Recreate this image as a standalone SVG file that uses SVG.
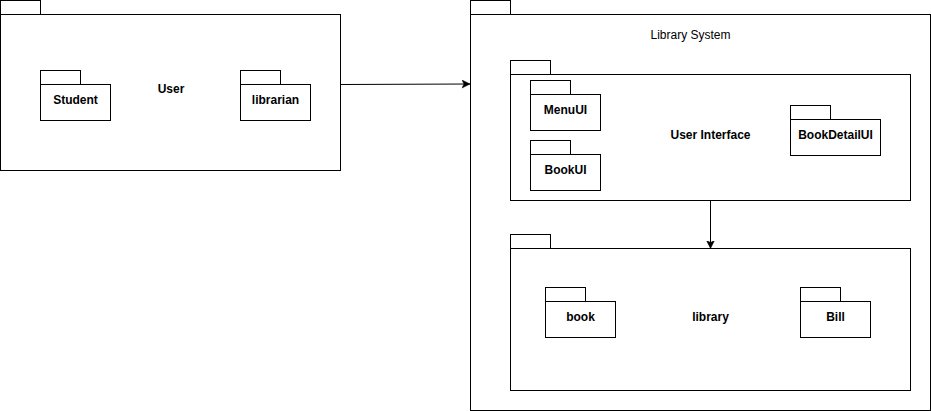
<svg xmlns="http://www.w3.org/2000/svg" width="931" height="411" viewBox="0 0 931 411">
<style>
.p{fill:#fff;stroke:#000;stroke-width:1}
.t{font-family:"Liberation Sans",Arial,sans-serif;font-size:12px;fill:#000;text-anchor:middle;dominant-baseline:central}
.b{font-weight:bold}
.c{fill:none;stroke:#000;stroke-width:1}
</style>
<defs>
<marker id="ah" markerWidth="10" markerHeight="10" refX="8" refY="4" orient="auto" markerUnits="userSpaceOnUse">
<path d="M0,0 L8,4 L0,8 L2,4 Z" fill="#000" stroke="#000" stroke-width="0.5"/>
</marker>
</defs>
<rect width="931" height="411" fill="#fff"/>
<g id="user">
<rect class="p" x="0.5" y="0.5" width="40" height="14"/>
<rect class="p" x="0.5" y="14.5" width="340" height="156"/>
<text class="t b" x="171" y="89">User</text>
</g>
<g id="student">
<rect class="p" x="40.5" y="70.5" width="40" height="14"/>
<rect class="p" x="40.5" y="84.5" width="70" height="36"/>
<text class="t b" x="75.5" y="100">Student</text>
</g>
<g id="librarian">
<rect class="p" x="240.5" y="70.5" width="40" height="14"/>
<rect class="p" x="240.5" y="84.5" width="70" height="36"/>
<text class="t b" x="275.5" y="100">librarian</text>
</g>
<g id="library-system">
<rect class="p" x="470.5" y="0.5" width="40" height="14"/>
<rect class="p" x="470.5" y="14.5" width="460" height="396"/>
<text class="t" x="690.5" y="35">Library System</text>
</g>
<g id="user-interface">
<rect class="p" x="510.5" y="60.5" width="40" height="14"/>
<rect class="p" x="510.5" y="74.5" width="400" height="126"/>
<text class="t b" x="710.5" y="135">User Interface</text>
</g>
<g id="menuui">
<rect class="p" x="530.5" y="80.5" width="40" height="14"/>
<rect class="p" x="530.5" y="94.5" width="70" height="36"/>
<text class="t b" x="565.5" y="110">MenuUI</text>
</g>
<g id="bookui">
<rect class="p" x="530.5" y="140.5" width="40" height="14"/>
<rect class="p" x="530.5" y="154.5" width="70" height="36"/>
<text class="t b" x="565.5" y="170">BookUI</text>
</g>
<g id="bookdetailui">
<rect class="p" x="790.5" y="105.5" width="40" height="14"/>
<rect class="p" x="790.5" y="119.5" width="90" height="36"/>
<text class="t b" x="835.5" y="135">BookDetailUI</text>
</g>
<g id="library">
<rect class="p" x="510.5" y="234.5" width="40" height="14"/>
<rect class="p" x="510.5" y="248.5" width="400" height="142"/>
<text class="t b" x="710.5" y="317">library</text>
</g>
<g id="book">
<rect class="p" x="545.5" y="287.5" width="40" height="14"/>
<rect class="p" x="545.5" y="301.5" width="70" height="36"/>
<text class="t b" x="580.5" y="317">book</text>
</g>
<g id="bill">
<rect class="p" x="800.5" y="287.5" width="40" height="14"/>
<rect class="p" x="800.5" y="301.5" width="70" height="36"/>
<text class="t b" x="835.5" y="317">Bill</text>
</g>
<g id="connectors">
<path class="c" d="M340.5,84.5 L470,84" marker-end="url(#ah)"/>
<path class="c" d="M710.5,200.5 L710.5,248.5" marker-end="url(#ah)"/>
</g>
</svg>
